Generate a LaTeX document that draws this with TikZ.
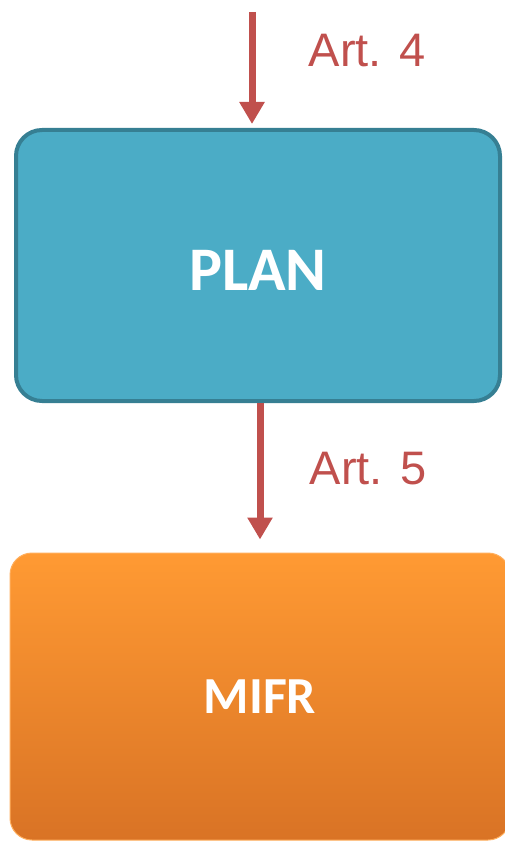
\documentclass[tikz,border=0pt]{standalone}
\usepackage{fontspec}
\setmainfont{Carlito}
\newfontfamily\artfont{Liberation Sans}
\usetikzlibrary{arrows.meta}
\definecolor{planblue}{HTML}{4BACC6}
\definecolor{planedge}{HTML}{367F93}
\definecolor{artred}{HTML}{C0504D}
\definecolor{mifrtop}{HTML}{FF9A33}
\definecolor{mifrmid}{HTML}{F88F2E}
\definecolor{mifrbot}{HTML}{D97325}
\tikzset{
  artarrow/.style={draw=artred,line width=7pt,-{Triangle[width=24pt,length=22pt]}},
  artlabel/.style={text=artred,font={\artfont\fontsize{47pt}{50pt}\selectfont}},
  boxtext/.style={text=white,font={\bfseries\fontsize{62pt}{66pt}\selectfont}}}

\begin{document}
\begin{tikzpicture}[x=1pt,y=-1pt]
\useasboundingbox (0,0) rectangle (504,842);
\node[boxtext,draw=planedge,line width=4pt,fill=planblue,rounded corners=26pt,
  minimum width=484pt,minimum height=271pt] (plan) at (258,265.5) {\raisebox{-5pt}[\height][0pt]{PLAN}};
\node[boxtext,font={\bfseries\fontsize{52pt}{56pt}\selectfont},
  draw=mifrtop!80!white,line width=1pt,top color=mifrtop,middle color=mifrmid,bottom color=mifrbot,
  rounded corners=22pt,minimum width=500pt,minimum height=287pt] (mifr) at (260,696.5) {MIFR};
\coordinate (src) at (252,12);
\draw[artarrow,shorten >=4pt] (src) -- (src |- plan.north);
\draw[artarrow,shorten >=13pt] (plan.south -| mifr.north) -- (mifr.north);
\node[artlabel] (art4) at (367,51) {Art. 4};
\node[artlabel] (art5) at (368,469) {Art. 5};
\end{tikzpicture}
\end{document}
